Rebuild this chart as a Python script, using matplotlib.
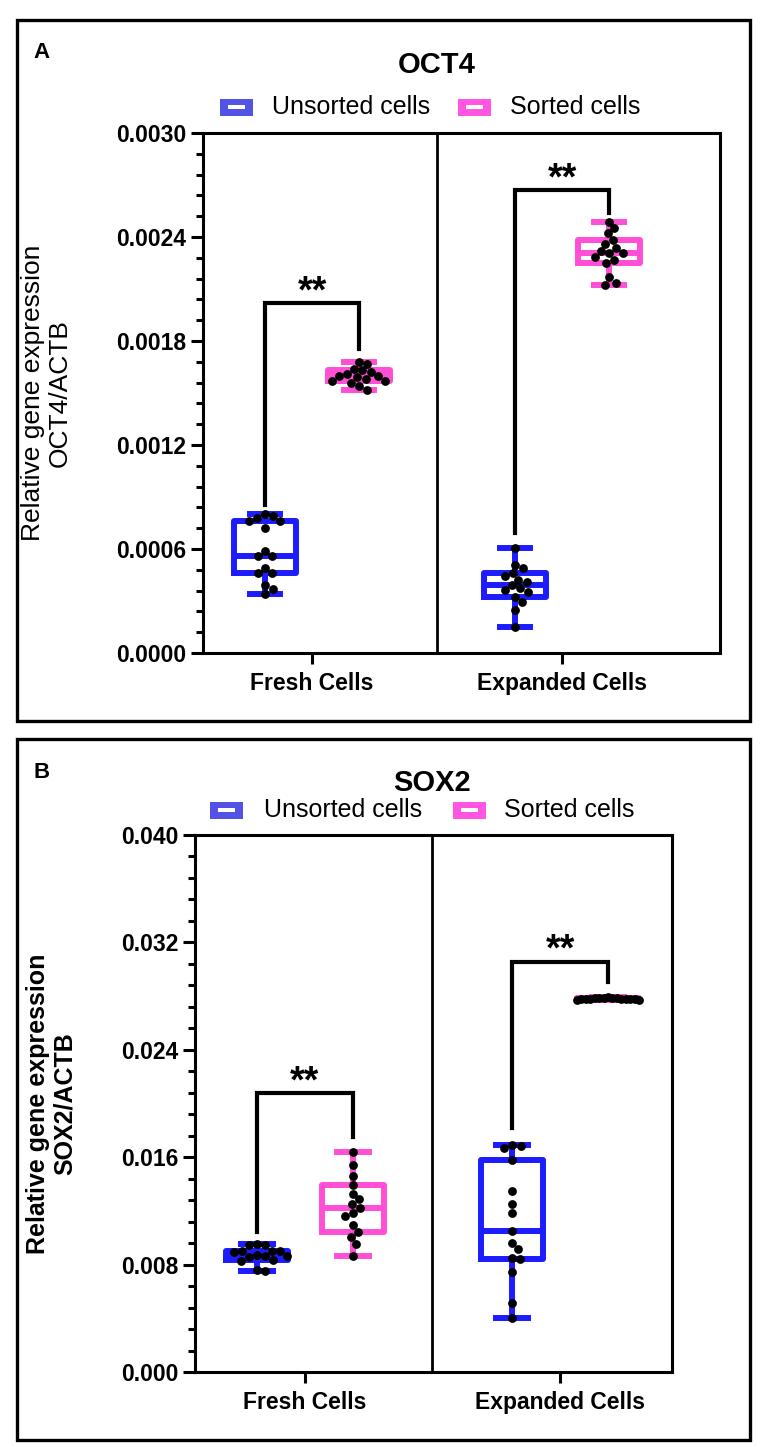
import numpy as np
import matplotlib
matplotlib.use("Agg")
import matplotlib.pyplot as plt
from matplotlib.patches import Rectangle
from matplotlib.ticker import FormatStrFormatter, MultipleLocator
from matplotlib.transforms import offset_copy

plt.rcParams['font.family'] = ['Liberation Sans', 'DejaVu Sans']

# ---- data ----
categories = ["Fresh Cells", "Expanded Cells"]
groups = ["Unsorted cells", "Sorted cells"]

oct4_fresh_unsorted = [0.00080, 0.00079, 0.00078, 0.00076, 0.00076, 0.00072, 0.00059, 0.00056,
                       0.00056, 0.00049, 0.00046, 0.00046, 0.00039, 0.00037, 0.00034]
oct4_fresh_sorted = [0.00168, 0.00167, 0.00164, 0.00163, 0.00162, 0.00161, 0.00160, 0.00160,
                     0.00159, 0.00158, 0.00157, 0.00157, 0.00156, 0.00154, 0.00152]
oct4_exp_unsorted = [0.000608, 0.000508, 0.000489, 0.000460, 0.000446, 0.000421, 0.000408, 0.000392,
                     0.000373, 0.000363, 0.000354, 0.000325, 0.000296, 0.000248, 0.000148]
oct4_exp_sorted = [0.002488, 0.002450, 0.002421, 0.002383, 0.002360, 0.002338, 0.002319, 0.002306,
                   0.002306, 0.002283, 0.002267, 0.002248, 0.002167, 0.002136, 0.002123]

sox2_fresh_unsorted = [0.00952, 0.00948, 0.00944, 0.00905, 0.00902, 0.00899, 0.00896, 0.00868,
                       0.00865, 0.00862, 0.00858, 0.00836, 0.00830, 0.00762, 0.00756]
sox2_fresh_sorted = [0.01641, 0.01542, 0.01460, 0.01393, 0.01326, 0.01286, 0.01251, 0.01220,
                     0.01187, 0.01162, 0.01095, 0.01043, 0.01005, 0.00953, 0.00864]
sox2_exp_unsorted = [0.01690, 0.01683, 0.01666, 0.01579, 0.01350, 0.01254, 0.01182, 0.01050,
                     0.00959, 0.00916, 0.00851, 0.00840, 0.00747, 0.00512, 0.00405]
sox2_exp_sorted = [0.02790, 0.02788, 0.02786, 0.02785, 0.02784, 0.02783, 0.02782, 0.02781,
                   0.02780, 0.02779, 0.02778, 0.02776, 0.02775, 0.02772, 0.02770]

# significance brackets: top, left leg end, right leg end, star height
oct4_brackets = [[0.002017, 0.000854, 0.001754, 0.00215],
                 [0.002671, 0.000692, 0.002540, 0.002806]]
sox2_brackets = [[0.02076, 0.01043, 0.01753, 0.0225],
                 [0.03057, 0.01815, 0.02907, 0.0323]]
sig_label = "**"

W, H = 767, 1456
blue = '#1c1cff'
pink = '#ff4fd6'
leg_blue = '#5252e4'
leg_pink = '#ff55e2'


def fx(x):
    return x / W


def fy(y):
    return 1 - y / H


def swarm_offsets(ax, xc, vals, d_px, lim_px):
    pts = ax.transData.transform([[xc, v] for v in vals])
    ys = pts[:, 1]
    order = np.argsort(-ys)
    placed = []
    xs = np.zeros(len(vals))
    for i in order:
        cands = [0.0]
        for (xj, yj) in placed:
            dy = ys[i] - yj
            if abs(dy) < d_px:
                dx = np.sqrt(d_px ** 2 - dy ** 2)
                cands += [xj + dx, xj - dx]
        cands.sort(key=abs)
        for c in cands:
            if all((c - xj) ** 2 + (ys[i] - yj) ** 2 >= d_px ** 2 - 1e-6 for (xj, yj) in placed):
                xs[i] = c
                break
        placed.append((xs[i], ys[i]))
    m = np.abs(xs).max()
    if m > lim_px:
        xs = xs * lim_px / m
    unit = ax.transData.transform([[1, 0]])[0, 0] - ax.transData.transform([[0, 0]])[0, 0]
    return xs / unit


def draw_box(ax, pos, vals, color, width):
    v = np.asarray(vals)
    q1, med, q3 = np.percentile(v, [25, 50, 75], method='weibull')
    stats = [dict(med=med, q1=q1, q3=q3, whislo=v.min(), whishi=v.max(), fliers=[])]
    lw = 4.3
    ax.bxp(stats, positions=[pos], widths=width, showfliers=False, manage_ticks=False,
           capwidths=width * 0.5,
           boxprops=dict(color=color, linewidth=lw),
           whiskerprops=dict(color=color, linewidth=lw),
           capprops=dict(color=color, linewidth=lw),
           medianprops=dict(color=color, linewidth=lw), zorder=2)


def panel(fig, rect, xlim, ylim, major, minor, fmt, series, brackets, ylabel, ylabel_weight,
          ylabel_size):
    ax = fig.add_axes(rect)
    ax.set_xlim(*xlim)
    ax.set_ylim(*ylim)
    off = 0.188
    bw = 0.245
    for ci in range(2):
        for gi, col in enumerate([blue, pink]):
            vals = series[ci][gi]
            pos = ci + (-off if gi == 0 else off)
            draw_box(ax, pos, vals, col, bw)
            dx = swarm_offsets(ax, pos, vals, 8.5, 31)
            ax.scatter(pos + dx, vals, s=40, color='black', zorder=4, linewidths=0)
        top, lft, rgt, star = brackets[ci]
        xl, xr = ci - off, ci + off
        ax.plot([xl, xl, xr, xr], [lft, top, top, rgt], color='black', lw=3,
                solid_joinstyle='miter', zorder=3)
        tr = offset_copy(ax.transData, fig=fig, y=-0.60 * 27, units='points')
        ax.text(ci, star, sig_label, transform=tr, ha='center', va='baseline',
                fontsize=27, fontweight='bold')
    ax.axvline(0.5, color='black', lw=2, zorder=1)
    for s in ax.spines.values():
        s.set_linewidth(2.2)
    ax.yaxis.set_major_locator(MultipleLocator(major))
    ax.yaxis.set_minor_locator(MultipleLocator(minor))
    ax.yaxis.set_major_formatter(FormatStrFormatter(fmt))
    ax.tick_params(axis='y', which='major', length=9, width=2.2, labelsize=16.5, pad=3)
    ax.tick_params(axis='y', which='minor', length=5, width=2.2)
    ax.tick_params(axis='x', which='major', length=8, width=2.2, labelsize=16.5, pad=6)
    ax.set_xticks([0, 1])
    ax.set_xticklabels(categories)
    for lab in ax.get_xticklabels() + ax.get_yticklabels():
        lab.set_fontweight('bold')
    ax.set_ylabel(ylabel, fontsize=ylabel_size, fontweight=ylabel_weight, linespacing=1.15)
    return ax


fig = plt.figure(figsize=(W / 100, H / 100), dpi=100)

# panel frames
for (y0, y1) in [(20, 721), (739, 1440)]:
    fig.patches.append(Rectangle((fx(17), fy(y1)), fx(750) - fx(17), fy(y0) - fy(y1),
                                 transform=fig.transFigure, fill=False, lw=2.4,
                                 edgecolor='black'))

axA = panel(fig, [fx(203), fy(653), fx(720) - fx(203), fy(133) - fy(653)],
            (-0.436, 1.632), (0, 0.0030), 0.0006, 0.00012, '%.4f',
            [[oct4_fresh_unsorted, oct4_fresh_sorted], [oct4_exp_unsorted, oct4_exp_sorted]],
            oct4_brackets, "Relative gene expression\nOCT4/ACTB", 'normal', 19)
axA.yaxis.set_label_coords((72 - 203) / 517, 0.5)

axB = panel(fig, [fx(195), fy(1372), fx(672) - fx(195), fy(835) - fy(1372)],
            (-0.431, 1.439), (0, 0.040), 0.008, 0.0016, '%.3f',
            [[sox2_fresh_unsorted, sox2_fresh_sorted], [sox2_exp_unsorted, sox2_exp_sorted]],
            sox2_brackets, "Relative gene expression\nSOX2/ACTB", 'bold', 18)
axB.yaxis.set_label_coords((77 - 195) / 477, 0.5)

# titles, panel letters, legends
fig.text(fx(42), fy(52), "A", ha='center', va='center', fontsize=16, fontweight='bold')
fig.text(fx(42), fy(773), "B", ha='center', va='center', fontsize=16, fontweight='bold')
fig.text(fx(437), fy(65), "OCT4", ha='center', va='center', fontsize=21, fontweight='bold')
fig.text(fx(432), fy(783), "SOX2", ha='center', va='center', fontsize=21, fontweight='bold')


def legend_row(yc, items):
    for (x0, tx, col, name) in items:
        fig.patches.append(Rectangle((fx(x0), fy(yc + 8.5)), 33 / W, 17 / H,
                                     transform=fig.transFigure, color=col, lw=0))
        fig.patches.append(Rectangle((fx(x0 + 8), fy(yc + 2)), 17 / W, 4 / H,
                                     transform=fig.transFigure, color='white', lw=0))
        fig.text(fx(tx), fy(yc), name, ha='left', va='center', fontsize=18)


legend_row(107, [(220, 272, leg_blue, groups[0]), (458, 510, leg_pink, groups[1])])
legend_row(810, [(210, 264, leg_blue, groups[0]), (453, 504, leg_pink, groups[1])])

fig.savefig("out.png", dpi=100)
